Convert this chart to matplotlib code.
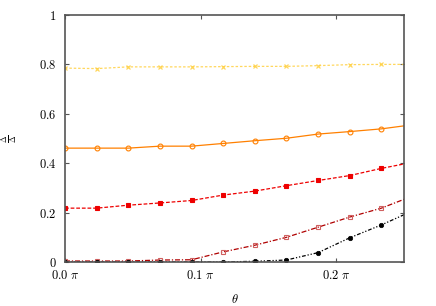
import matplotlib
matplotlib.use("Agg")
import matplotlib.pyplot as plt
import numpy as np

plt.rcParams['mathtext.fontset'] = 'cm'
plt.rcParams['font.family'] = 'serif'
plt.rcParams['font.serif'] = ['DejaVu Serif']

# x in units of pi
theta = [0.0, 0.0233, 0.0467, 0.07, 0.0933, 0.1167, 0.14, 0.1633, 0.1867, 0.21, 0.2333, 0.2567]
yellow = [0.785, 0.783, 0.790, 0.790, 0.790, 0.791, 0.792, 0.792, 0.795, 0.799, 0.800, 0.800]
orange = [0.461, 0.461, 0.461, 0.469, 0.469, 0.480, 0.491, 0.501, 0.518, 0.528, 0.539, 0.556]
red = [0.218, 0.218, 0.230, 0.239, 0.249, 0.271, 0.287, 0.309, 0.330, 0.350, 0.379, 0.404]
darkred = [0.004, 0.004, 0.004, 0.008, 0.009, 0.041, 0.068, 0.100, 0.141, 0.182, 0.218, 0.268]
black = [0.0, 0.0, 0.0, 0.0, 0.0, 0.0, 0.003, 0.008, 0.038, 0.098, 0.150, 0.208]

xticks = [0.0, 0.1, 0.2]
xticklabels = [r'$0.0\ \pi$', r'$0.1\ \pi$', r'$0.2\ \pi$']
yticks = [0, 0.2, 0.4, 0.6, 0.8, 1]
yticklabels = [r'$0$', r'$0.2$', r'$0.4$', r'$0.6$', r'$0.8$', r'$1$']

fig = plt.figure(figsize=(4.36, 3.06), dpi=100)
ax = fig.add_axes([65/436, 44/306, 339/436, 247/306])

ax.plot(theta, yellow, color='#FFD040', ls=(0, (2, 1.5)), lw=0.9, marker='x', ms=3.5, mew=0.9, alpha=0.85)
ax.plot(theta, orange, color='#FF8000', ls='-', lw=0.9, marker='o', ms=3.5, mfc='none', mew=0.8)
ax.plot(theta, red, color='#EE0000', ls=(0, (3, 1.5)), lw=0.9, marker='s', ms=3.5, mew=0.8)
ax.plot(theta, darkred, color='#B00000', ls=(0, (4, 1.5, 1, 1.5)), lw=0.9, marker='s', ms=3.5, mfc='none', mec='#D06060', mew=0.8)
ax.plot(theta, black, color='black', ls=(0, (3, 1.5, 1, 1.5, 1, 1.5)), lw=0.9, marker='o', ms=3.2, mew=0.5)

ax.set_xlim(0, 0.25)
ax.set_ylim(0, 1)
ax.set_xticks(xticks)
ax.set_xticklabels(xticklabels)
ax.set_yticks(yticks)
ax.set_yticklabels(yticklabels)
ax.tick_params(direction='in', top=True, right=True, length=3, width=0.8, color='#555555', labelsize=9)
ax.tick_params(axis='y', pad=6)
ax.tick_params(axis='x', pad=5)
for s in ax.spines.values():
    s.set_color('#555555')
    s.set_linewidth(1.2)

ax.set_xlabel(r'$\theta$', fontsize=9, labelpad=8)
ax.set_ylabel(r'$\frac{\tilde{\Delta}}{\Delta}$', fontsize=8, rotation=90)
ax.yaxis.set_label_coords(-0.135, 0.5)

fig.savefig('out.png', dpi=100)
